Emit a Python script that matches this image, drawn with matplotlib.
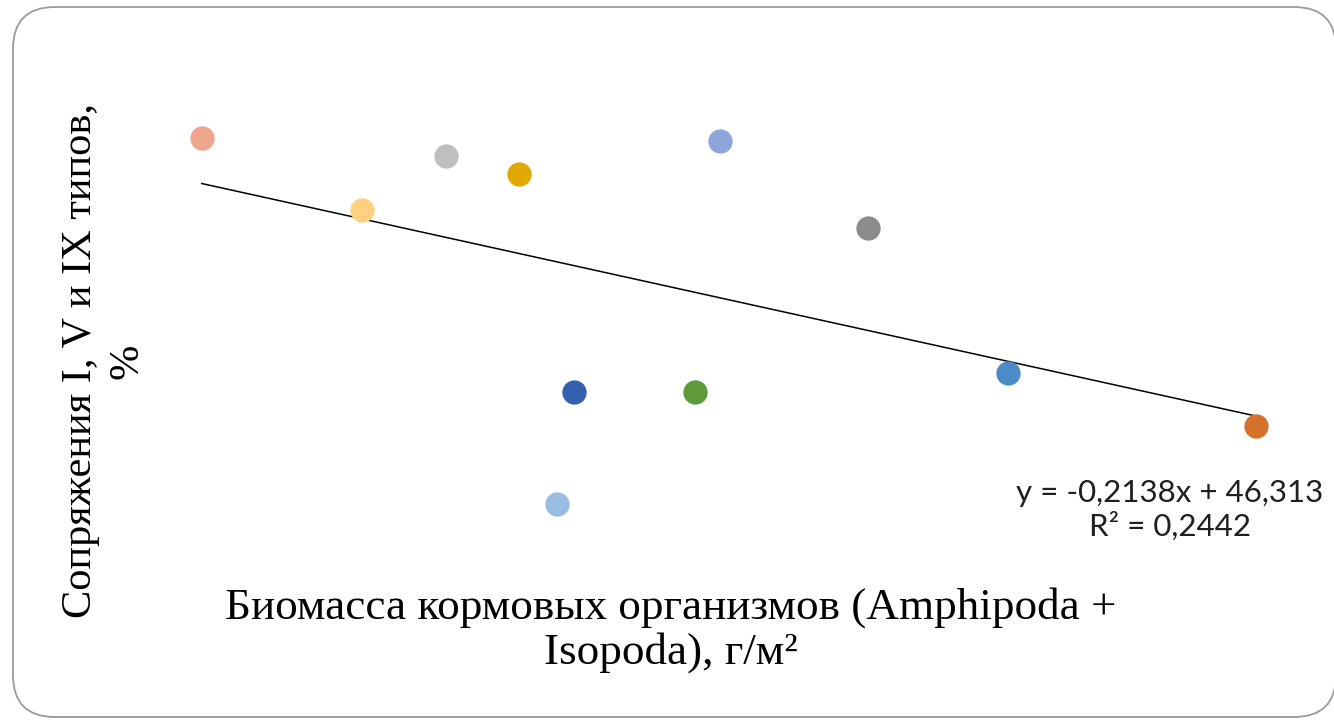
import matplotlib
matplotlib.use("Agg")
import matplotlib.pyplot as plt
from matplotlib.patches import FancyBboxPatch
import numpy as np

# --- DATA ---
biomass = [5.0, 21.0, 29.4, 36.7, 56.8, 71.6, 85.6, 110.4, 42.2, 54.3, 40.5]
conjugation = [49.7, 42.7, 47.9, 46.2, 49.4, 40.9, 26.9, 21.7, 25.0, 25.0, 14.2]
point_colors = ['#F0A68D', '#FFD07F', '#BFBFBF', '#E1A900', '#8EA5DA', '#8C8C8C',
                '#4C8BC8', '#D6712C', '#3461AE', '#5E9B3C', '#98BCE2']

slope = -0.2138
intercept = 46.313
r2 = 0.2442

x_label = "Биомасса кормовых организмов (Amphipoda +\nIsopoda), г/м²"
y_label = "Сопряжения I, V и IX типов,\n%"

# --- FIGURE ---
W, H = 1334, 722
fig = plt.figure(figsize=(W / 100, H / 100), dpi=100, facecolor='white')

# frame with rounded corners, in pixel units
bg = fig.add_axes([0, 0, 1, 1])
bg.set_xlim(0, W)
bg.set_ylim(H, 0)
bg.axis('off')
frame = FancyBboxPatch((13, 7), 1336 - 13, 717 - 7,
                       boxstyle="round,pad=0,rounding_size=42",
                       facecolor='white', edgecolor='#9a9a9a', linewidth=1.3)
bg.add_patch(frame)

# plot area (axes hidden, data scale only)
ax = fig.add_axes([0, 0, 1, 1])
ax.set_xlim(-15.17, 118.23)
ax.set_ylim(-6.95, 63.03)
ax.axis('off')

xs = np.array([min(biomass), max(biomass)])
ax.plot(xs, slope * xs + intercept, color='black', linewidth=1.1, zorder=2)

for x, y, c in zip(biomass, conjugation, point_colors):
    ax.plot(x, y, 'o', markersize=17.5, color=c, markeredgewidth=0, zorder=3)

serif = ['Liberation Serif', 'DejaVu Serif']
fig.text(671 / W, 1 - 630 / H, x_label, ha='center', va='center',
         fontsize=32.5, family=serif, linespacing=1.15)
fig.text(104 / W, 1 - 361 / H, y_label, ha='center', va='center',
         rotation=90, fontsize=30.5, family=serif, linespacing=1.3)

eq = f"y = {slope:.4f}x + {intercept:.3f}\nR² = {r2:.4f}".replace('.', ',')
fig.text(1170 / W, 1 - 510 / H, eq, ha='center', va='center',
         fontsize=22.5, family=['Lato', 'DejaVu Sans'], color='#1f1f1f',
         linespacing=1.2)

fig.savefig('out.png', dpi=100, facecolor='white')
